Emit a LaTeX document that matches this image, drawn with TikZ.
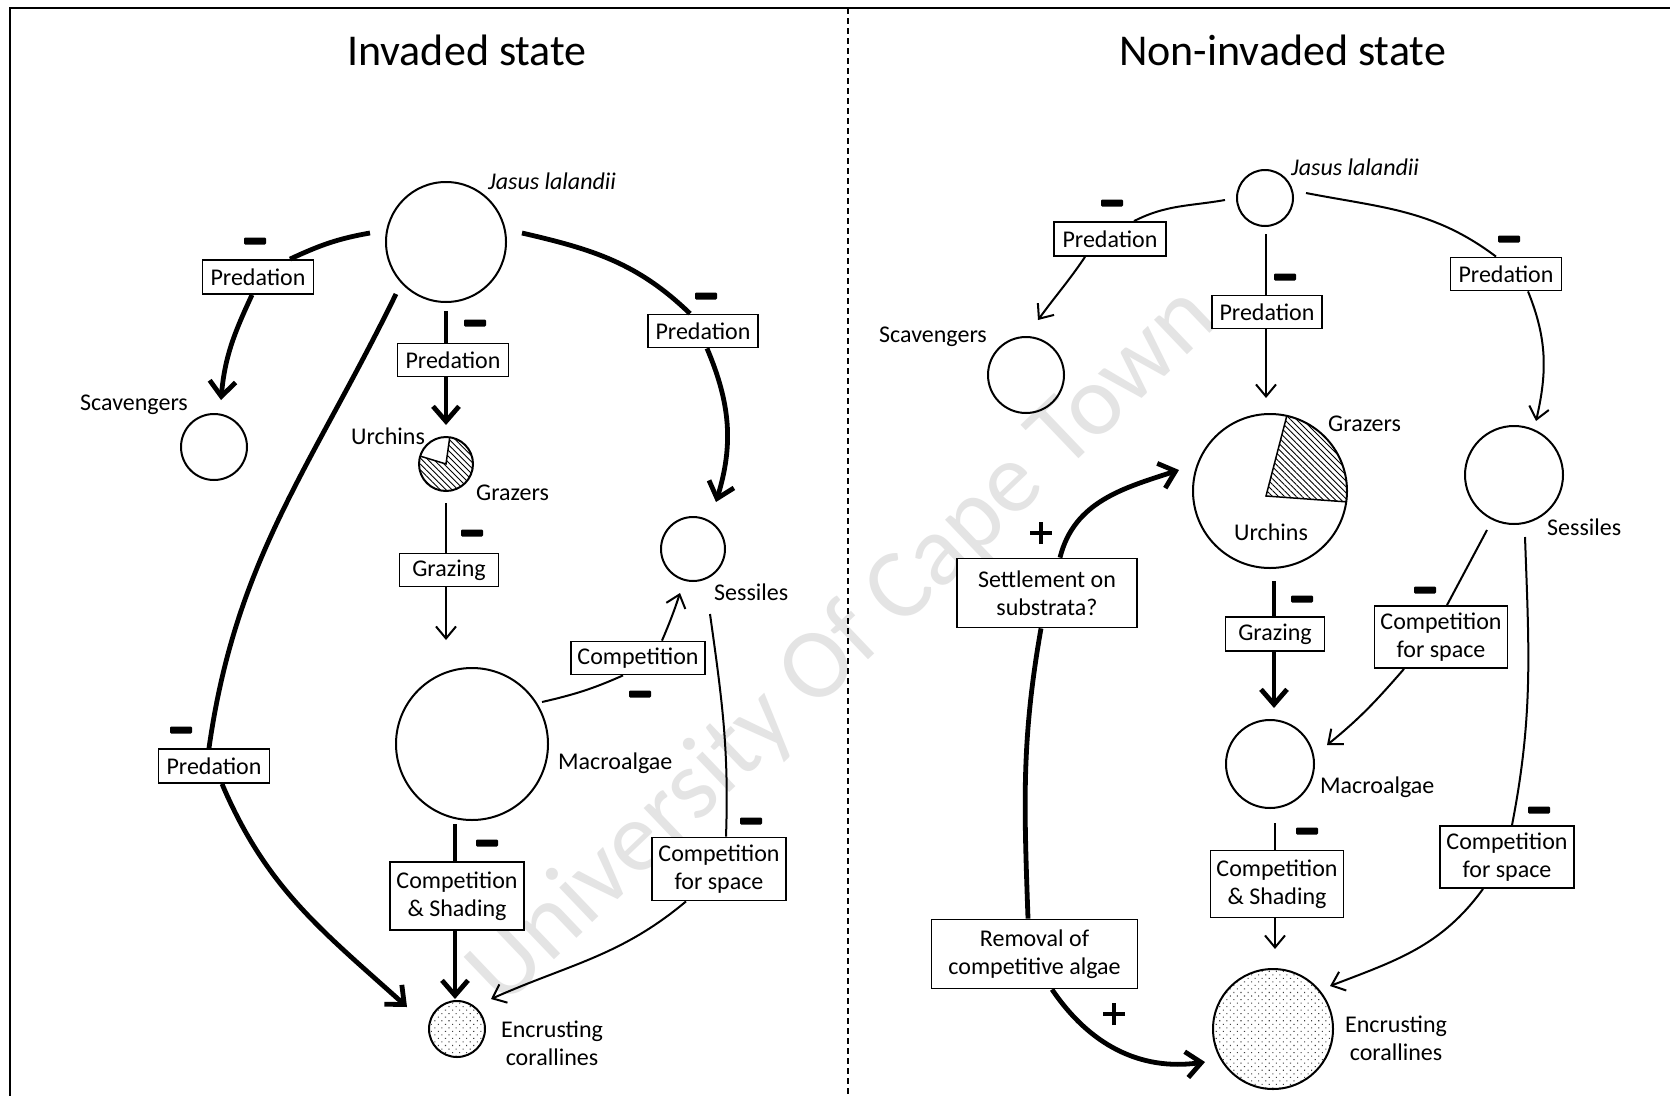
\documentclass[tikz,border=0pt]{standalone}
\usepackage{fontspec}
\setmainfont{Carlito}
\usetikzlibrary{arrows.meta,calc,patterns.meta}
\definecolor{wmgray}{HTML}{E4E4E4}
\begin{document}
\begin{tikzpicture}[x=1pt,y=1pt,
  org/.style={circle,draw,line width=2pt,inner sep=0pt,minimum size=#1pt},
  lbl/.style={inner sep=0pt,anchor=base west,font=\fontsize{24}{28}\selectfont},
  lblc/.style={inner sep=0pt,align=center,font=\fontsize{24}{28}\selectfont},
  ttl/.style={inner sep=0pt,anchor=base west,font=\fontsize{44}{50}\selectfont},
  box/.style 2 args={draw,fill=white,line width=1.8pt,inner sep=0pt,align=center,minimum width=#1pt,minimum height=#2pt,font=\fontsize{24}{28}\selectfont},
  minus/.style={fill,rounded corners=1.2pt,inner sep=0pt,minimum width=22pt,minimum height=7pt},
  thk/.style={line width=4.8pt},
  thn/.style={line width=2pt},
  thkarr/.style={thk,-{Straight Barb[length=15pt,width=26pt]}},
  thnarr/.style={thn,-{Straight Barb[length=12pt,width=20pt]}},
  plus/.style={line width=4pt},
  hatch/.style={pattern={Lines[angle=-45,distance=4.2pt,line width=0.9pt]}},
  dots/.style={pattern={Dots[angle=45,distance=5pt,radius=0.75pt]},pattern color=black!75},
]
\useasboundingbox (0,0) rectangle (1670,-1095);
\fill[white] (0,0) rectangle (1670,-1095);

% watermark
\node[rotate=43.7,anchor=base,inner sep=0pt,text=wmgray,font=\fontsize{100}{100}\selectfont] (wm) at (862,-666) {University Of Cape Town};

% frame and divider
\draw[line width=2.5pt] (10,-8) rectangle (1690,-1115);
\draw[line width=1.5pt,dash pattern=on 6pt off 4pt] (848,-8) -- (848,-1095);

% titles
\node[ttl] (t1) at (347,-65) {Invaded state};
\node[ttl] (t2) at (1119,-65) {Non-invaded state};

% ================= LEFT: invaded =================
\node[org=120] (jasusL) at (446,-242) {};
\node[org=66] (scavL) at (214,-447) {};
\coordinate (cU) at (446,-464);
\fill[hatch] (cU) circle[radius=27];
\fill[white] (cU) -- ($(cU)+(82:27)$) arc[start angle=82,end angle=163,radius=27] -- cycle;
\draw[line width=1.5pt] ($(cU)+(82:27)$) -- (cU) -- ($(cU)+(163:27)$);
\node[org=54] (urchL) at (cU) {};
\node[org=64] (sessL) at (693,-549) {};
\node[org=152] (macroL) at (472,-744) {};
\node[org=56,dots] (encL) at (457,-1029) {};

\node[lbl,font=\fontsize{24}{28}\selectfont\itshape] (jlL) at (488,-189) {Jasus lalandii};
\node[lbl] (scLL) at (80,-410) {Scavengers};
\node[lbl] (urLL) at (351,-444) {Urchins};
\node[lbl] (grLL) at (476,-500) {Grazers};
\node[lbl] (seLL) at (714,-600) {Sessiles};
\node[lbl] (maLL) at (558,-769) {Macroalgae};
\node[lblc] (enLL) at (552,-1043) {Encrusting\\corallines};

\node[box={111}{34}] (pL1) at (258,-277) {Predation};
\node[box={111}{33}] (pL2) at (453,-360) {Predation};
\node[box={110}{33}] (pL3) at (703,-331) {Predation};
\node[box={111}{34}] (pL4) at (214,-766) {Predation};
\node[box={99}{33}] (grazL) at (449,-570) {Grazing};
\node[box={134}{33}] (compL) at (638,-658) {Competition};
\node[box={134}{68}] (csL) at (457,-896) {Competition\\\& Shading};
\node[box={134}{63}] (cfsL) at (719,-869) {Competition\\for space};

% connectors left
\draw[thk] ($(jasusL)+(-76,9)$) to[out=190,in=25] ([xshift=32]pL1.north);
\draw[thkarr] ([xshift=-6]pL1.south) to[out=-115,in=85] ($(scavL)+(7,47)$);
\draw[thk] ($(jasusL)+(0,-69)$) -- ([xshift=-7]pL2.north);
\draw[thkarr] ([xshift=-7]pL2.south) -- ($(urchL)+(0,39)$);
\draw[thk] ($(jasusL)+(76,9)$) to[out=-13,in=136] ([xshift=-13]pL3.north);
\draw[thkarr] ([xshift=4]pL3.south) to[out=-67,in=73] ($(sessL)+(23,47)$);
\draw[thk] ($(jasusL)+(-50,-52)$) to[out=-116,in=82] ([xshift=-5]pL4.north);
\draw[thkarr] ([xshift=8]pL4.south) to[out=-67,in=138] ($(encL)+(-50,22)$);
\draw[thn] ($(urchL)+(0,-39)$) -- ([xshift=-3]grazL.north);
\draw[thnarr] ([xshift=-3]grazL.south) -- ($(macroL)+(-26,104)$);
\draw[thn] ($(macroL)+(70,42)$) to[out=13,in=204] ([xshift=-15]compL.south);
\draw[thnarr] ([xshift=24]compL.north) to[out=67,in=-108] ($(sessL)+(-13,-44)$);
\draw[thk] ($(macroL)+(-17,-80)$) -- ([xshift=-2]csL.north);
\draw[thkarr] ([xshift=-2]csL.south) -- ($(encL)+(-2,30)$);
\draw[thn] ($(sessL)+(17,-65)$) to[out=-82,in=88] ([xshift=7]cfsL.north);
\draw[thnarr] ([xshift=-33]cfsL.south) to[out=220,in=24] ($(encL)+(34,30)$);

% minus signs left
\node[minus] (mL1) at (255,-241) {};
\node[minus] (mL2) at (475,-323) {};
\node[minus] (mL3) at (706,-296) {};
\node[minus] (mL4) at (472,-533) {};
\node[minus] (mL5) at (640,-694) {};
\node[minus] (mL6) at (487,-843) {};
\node[minus] (mL7) at (181,-730) {};
\node[minus] (mL8) at (751,-821) {};

% ================= RIGHT: non-invaded =================
\node[org=56] (jasusR) at (1265,-198) {};
\node[org=76] (scavR) at (1026,-375) {};
\coordinate (cUR) at (1270,-491);
\coordinate (vUR) at (1266,-496);
\fill[hatch] (vUR) -- ($(cUR)+(77.4:77)$) arc[start angle=77.4,end angle=-8.1,radius=77] -- cycle;
\draw[line width=1.5pt] ($(cUR)+(77.4:77)$) -- (vUR) -- ($(cUR)+(-8.1:77)$);
\node[org=154] (urchR) at (cUR) {};
\node[org=98] (sessR) at (1514,-475) {};
\node[org=88] (macroR) at (1270,-764) {};
\node[org=120,dots] (encR) at (1273,-1029) {};

\node[lbl,font=\fontsize{24}{28}\selectfont\itshape] (jlR) at (1291,-175) {Jasus lalandii};
\node[lbl] (scLR) at (879,-342) {Scavengers};
\node[lbl] (grLR) at (1328,-431) {Grazers};
\node[lbl] (urLR) at (1234,-540) {Urchins};
\node[lbl] (seLR) at (1547,-535) {Sessiles};
\node[lbl] (maLR) at (1320,-793) {Macroalgae};
\node[lblc] (enLR) at (1396,-1038) {Encrusting\\corallines};

\node[box={112}{34}] (pR1) at (1110,-239) {Predation};
\node[box={110}{33}] (pR2) at (1267,-312) {Predation};
\node[box={111}{33}] (pR3) at (1506,-274) {Predation};
\node[box={99}{34}] (grazR) at (1275,-634) {Grazing};
\node[box={133}{62}] (cfsR1) at (1441,-637) {Competition\\for space};
\node[box={133}{67}] (csR) at (1277,-884) {Competition\\\& Shading};
\node[box={134}{62}] (cfsR2) at (1507,-857) {Competition\\for space};
\node[box={180}{69}] (settle) at (1047,-593) {Settlement on\\substrata?};
\node[box={206}{69}] (removal) at (1034.5,-954) {Removal of\\competitive algae};

% connectors right
\draw[thn] ($(jasusR)+(-40,-2)$) to[out=190,in=27] ([xshift=24]pR1.north);
\draw[thnarr] ([xshift=-25]pR1.south) to[out=236,in=54] ($(scavR)+(12,55)$);
\draw[thn] ($(jasusR)+(1,-36)$) -- ([xshift=-1]pR2.north);
\draw[thnarr] ([xshift=-1]pR2.south) -- ($(urchR)+(-4,93)$);
\draw[thn] ($(jasusR)+(41,5)$) to[out=-11,in=143] ([xshift=-10]pR3.north);
\draw[thnarr] ([xshift=22]pR3.south) to[out=-68,in=77] ($(sessR)+(22,54)$);
\draw[thk] ($(urchR)+(4,-90)$) -- ([xshift=-1]grazR.north);
\draw[thkarr] ([xshift=-1]grazR.south) -- ($(macroR)+(4,56)$);
\draw[thn] ($(sessR)+(-27,-55)$) to[out=-118,in=62] ([xshift=6]cfsR1.north);
\draw[thnarr] ([xshift=-37]cfsR1.south) to[out=229,in=39] ($(macroR)+(57,19)$);
\draw[thn] ($(macroR)+(5,-59)$) -- ([xshift=-2]csR.north);
\draw[thnarr] ([xshift=-2]csR.south) -- ($(encR)+(2,80)$);
\draw[thn] ($(sessR)+(11,-62)$) to[out=-88,in=79] ([xshift=5]cfsR2.north);
\draw[thnarr] ([xshift=-24]cfsR2.south) to[out=234,in=21] ($(encR)+(57,43)$);
\draw[thk] ([xshift=-6.5]removal.north) to[out=92,in=-100] ([xshift=-6]settle.south);
\draw[thkarr] ([xshift=13]settle.north) to[out=76,in=198] ($(urchR)+(-91,21)$);
\draw[thkarr] ([xshift=17.5]removal.south) to[out=-56,in=188] ($(encR)+(-68,-33)$);

% minus signs right
\node[minus] (mR1) at (1112,-203) {};
\node[minus] (mR2) at (1285,-277) {};
\node[minus] (mR3) at (1509,-239) {};
\node[minus] (mR4) at (1302,-599) {};
\node[minus] (mR5) at (1425,-590) {};
\node[minus] (mR6) at (1307,-831) {};
\node[minus] (mR7) at (1539,-810) {};

% plus signs
\coordinate (pl1) at (1041,-533);
\coordinate (pl2) at (1114,-1014);
\draw[plus] ([xshift=-11]pl1) -- ([xshift=11]pl1) ([yshift=-11]pl1) -- ([yshift=11]pl1);
\draw[plus] ([xshift=-11]pl2) -- ([xshift=11]pl2) ([yshift=-11]pl2) -- ([yshift=11]pl2);
\end{tikzpicture}
\end{document}
